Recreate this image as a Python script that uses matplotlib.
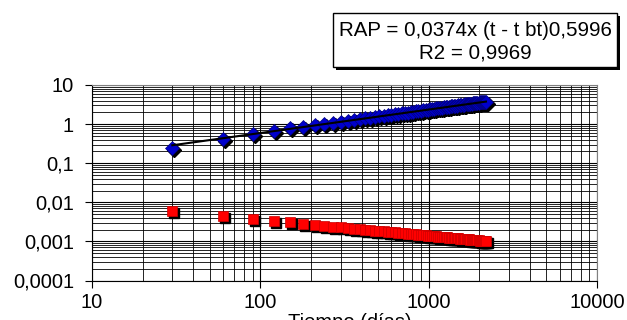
import numpy as np
import matplotlib
matplotlib.use("Agg")
import matplotlib.pyplot as plt
import matplotlib.transforms as mtransforms
from matplotlib.ticker import LogLocator, NullFormatter
from matplotlib.patches import Rectangle

plt.rcParams['font.family'] = ['Liberation Sans', 'DejaVu Sans']

# ---- data ----
t_days = list(range(30, 2191, 30))  # 30, 60, ..., 2190 days

rap_blue = [0.24, 0.42, 0.57, 0.68, 0.78, 0.842, 0.924, 1.00, 1.07, 1.14,
            1.21, 1.28, 1.34, 1.40, 1.46, 1.52, 1.57, 1.63, 1.68, 1.73,
            1.79, 1.84, 1.89, 1.94, 1.98, 2.03, 2.08, 2.12, 2.17, 2.21,
            2.26, 2.30, 2.34, 2.39, 2.43, 2.47, 2.51, 2.55, 2.59, 2.63,
            2.67, 2.71, 2.75, 2.78, 2.82, 2.86, 2.90, 2.93, 2.97, 3.01,
            3.04, 3.08, 3.11, 3.15, 3.18, 3.22, 3.25, 3.29, 3.32, 3.35,
            3.39, 3.42, 3.45, 3.49, 3.52, 3.55, 3.58, 3.61, 3.65, 3.68,
            3.71, 3.74, 3.77]

val_red = [0.0059, 0.00444, 0.00376, 0.00334, 0.00305, 0.00283, 0.00266, 0.00252, 0.00240, 0.00229,
           0.00221, 0.00213, 0.00206, 0.00200, 0.00194, 0.00189, 0.00185, 0.00180, 0.00176, 0.00173,
           0.00169, 0.00166, 0.00163, 0.00160, 0.00158, 0.00155, 0.00153, 0.00151, 0.00148, 0.00146,
           0.00144, 0.00143, 0.00141, 0.00139, 0.00137, 0.00136, 0.00134, 0.00133, 0.00131, 0.00130,
           0.00129, 0.00127, 0.00126, 0.00125, 0.00124, 0.00123, 0.00122, 0.00121, 0.00120, 0.00119,
           0.00118, 0.00117, 0.00116, 0.00115, 0.00114, 0.00113, 0.00112, 0.00112, 0.00111, 0.00110,
           0.00109, 0.00109, 0.00108, 0.00107, 0.00107, 0.00106, 0.00105, 0.00105, 0.00104, 0.00103,
           0.00103, 0.00102, 0.00102]

# trend line parameters as printed on the chart
fit_coef = 0.0374
fit_exp = 0.5996
eq_lines = ["RAP = 0,0374x (t - t bt)0,5996", "R2 = 0,9969"]

x_ticks = [10, 100, 1000, 10000]
x_tick_labels = ["10", "100", "1000", "10000"]
y_ticks = [1e-4, 1e-3, 1e-2, 1e-1, 1, 10]
y_tick_labels = ["0,0001", "0,001", "0,01", "0,1", "1", "10"]
x_label = "Tiempo (días)"

# ---- figure ----
W, H = 627, 320
fig = plt.figure(figsize=(W / 100, H / 100), dpi=100)
L, R, T, B = 92, 597, 85, 280.5
ax = fig.add_axes([L / W, 1 - B / H, (R - L) / W, (B - T) / H])
ax.set_xscale('log')
ax.set_yscale('log')
ax.set_xlim(10, 10000)
ax.set_ylim(1e-4, 10)

ax.set_xticks(x_ticks)
ax.set_xticklabels(x_tick_labels)
ax.set_yticks(y_ticks)
ax.set_yticklabels(y_tick_labels)
ax.xaxis.set_minor_locator(LogLocator(base=10, subs=np.arange(2, 10), numticks=100))
ax.yaxis.set_minor_locator(LogLocator(base=10, subs=np.arange(2, 10), numticks=100))
ax.xaxis.set_minor_formatter(NullFormatter())
ax.yaxis.set_minor_formatter(NullFormatter())

ax.set_axisbelow(True)
ax.grid(True, which='major', color='black', lw=0.8)
ax.grid(True, which='minor', color='black', lw=0.6)
ax.tick_params(which='minor', length=0)
ax.tick_params(which='major', length=5, width=0.8, direction='out', labelsize=14.5, colors='black')
ax.tick_params(axis='x', which='major', pad=4)
ax.tick_params(axis='y', which='major', pad=8)
for s in ['top', 'right']:
    ax.spines[s].set_color('#808080')
for s in ['left', 'bottom']:
    ax.spines[s].set_color('black')

# shadows
shadow = mtransforms.offset_copy(ax.transData, fig=fig, x=2, y=-2, units='dots')
ax.plot(t_days, rap_blue, 'D', ms=7, color='black', mec='black', transform=shadow, zorder=3)
ax.plot(t_days, val_red, 's', ms=7, color='black', mec='black', transform=shadow, zorder=3)

ax.plot(t_days, val_red, 's', ms=7, color='#FF0000', mec='#CC0000', mew=0.5, zorder=4)
ax.plot(t_days, rap_blue, 'D', ms=7, color='#0000CC', mec='#000080', mew=0.5, zorder=4)

t_arr = np.array(t_days, dtype=float)
ax.plot(t_arr, fit_coef * t_arr ** fit_exp, color='black', lw=1.5, zorder=5)

ax.set_xlabel(x_label, fontsize=14.5)
ax.xaxis.set_label_coords((350 - L) / (R - L), -(313 - B) / (B - T))

# equation box with shadow
bx0, bx1, by0, by1 = 333, 617, 13, 67
fig.patches.append(Rectangle(((bx0 + 3) / W, 1 - (by1 + 3) / H), (bx1 - bx0) / W, (by1 - by0) / H,
                             transform=fig.transFigure, facecolor='black', edgecolor='black', lw=0))
fig.patches.append(Rectangle((bx0 / W, 1 - by1 / H), (bx1 - bx0) / W, (by1 - by0) / H,
                             transform=fig.transFigure, facecolor='white', edgecolor='black', lw=1))
fig.text((bx0 + bx1) / 2 / W, 1 - 30 / H, eq_lines[0], ha='center', va='center', fontsize=14.8)
fig.text((bx0 + bx1) / 2 / W, 1 - 53 / H, eq_lines[1], ha='center', va='center', fontsize=14.8)

fig.savefig("out.png", dpi=100)
